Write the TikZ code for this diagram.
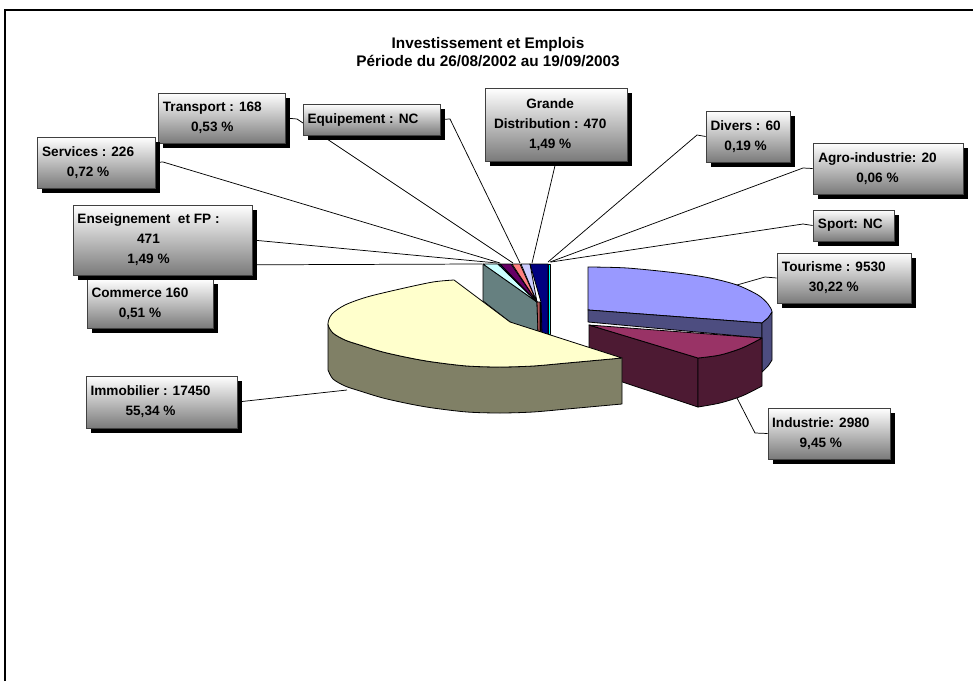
\documentclass[tikz,border=0pt]{standalone}
\usepackage{fontspec}
\setmainfont{Liberation Sans}
\usetikzlibrary{shadows,fit}

% slice colours (top faces and their darker sides)
\definecolor{immoTop}{HTML}{FFFFCC}
\definecolor{immoSide}{HTML}{808066}
\definecolor{tourTop}{HTML}{9999FF}
\definecolor{tourSide}{HTML}{4D4D80}
\definecolor{indTop}{HTML}{993366}
\definecolor{indSide}{HTML}{4D1A33}
\definecolor{commTop}{HTML}{CCFFFF}
\definecolor{commSide}{HTML}{668080}
\definecolor{ensTop}{HTML}{660066}
\definecolor{ensSide}{HTML}{330033}
\definecolor{servTop}{HTML}{FF8080}
\definecolor{servSide}{HTML}{B35A5A}
\definecolor{transTop}{HTML}{0066CC}
\definecolor{equipTop}{HTML}{CCCCFF}
\definecolor{gdTop}{HTML}{000080}
\definecolor{sportTop}{HTML}{00FFFF}

\pgfdeclarelayer{bg}
\pgfsetlayers{bg,main}

\begin{document}
\begin{tikzpicture}[x=0.75pt,y=-0.75pt,
  lbl/.style={draw=black!75, line width=0.5pt, top color=white, bottom color=black!52,
    inner sep=0pt,
    drop shadow={shadow xshift=3.75pt, shadow yshift=-3.75pt, fill=black, opacity=1}},
  lbltxt/.style={inner sep=0pt, align=center, anchor=west,
    font=\bfseries\fontsize{10.2}{15}\selectfont},
  lead/.style={draw=black, line width=0.55pt},
  pie/.style={draw=black, line width=0.6pt, line join=round},
  ttl/.style={font=\bfseries\fontsize{11.5}{13}\selectfont, align=center}]

\useasboundingbox (0,0) rectangle (973,681);

% chart frame
\draw[line width=1pt] (5,681) -- (5,10) -- (973,10);

% title
\node[ttl] (title) at (488,52) {Investissement et Emplois\\P\'eriode du 26/08/2002 au 19/09/2003};

% data label boxes
\node[lbl, fit={(87,279) (213,328)}] (comm) {};
\node[lbl, fit={(158,93) (285,143)}] (trans) {};
\node[lbl, fit={(37,137) (155,188)}] (serv) {};
\node[lbl, fit={(73,205) (252,275)}] (ens) {};
\node[lbl, fit={(303,104) (440,135)}] (equip) {};
\node[lbl, fit={(485,88) (627,161)}] (gd) {};
\node[lbl, fit={(706,111) (790,162)}] (div) {};
\node[lbl, fit={(813,143) (963,194)}] (agro) {};
\node[lbl, fit={(813,210) (894,241)}] (sport) {};
\node[lbl, fit={(777,253) (911,303)}] (tour) {};
\node[lbl, fit={(768,408) (890,459)}] (ind) {};
\node[lbl, fit={(86,376) (237,428)}] (immo) {};

% data label texts
\node[lbltxt] (commT) at ([xshift=3.5pt]comm.west) {Commerce 160\\0,51 \%};
\node[lbltxt] (transT) at ([xshift=3.75pt]trans.west) {Transport : 168\\0,53 \%};
\node[lbltxt] (servT) at ([xshift=3.9pt]serv.west) {Services : 226\\0,72 \%};
\node[lbltxt] (ensT) at ([xshift=3.4pt]ens.west) {Enseignement\ \ et FP :\\471\\1,49 \%};
\node[lbltxt] (equipT) at ([xshift=3.5pt]equip.west) {Equipement : NC};
\node[lbltxt] (gdT) at ([xshift=6.8pt]gd.west) {Grande\\Distribution : 470\\1,49 \%};
\node[lbltxt] (divT) at ([xshift=3.5pt]div.west) {Divers : 60\\0,19 \%};
\node[lbltxt] (agroT) at ([xshift=4pt]agro.west) {Agro-industrie: 20\\0,06 \%};
\node[lbltxt] (sportT) at ([xshift=3.75pt]sport.west) {Sport: NC};
\node[lbltxt] (tourT) at ([xshift=3.75pt]tour.west) {Tourisme : 9530\\30,22 \%};
\node[lbltxt] (indT) at ([xshift=3.2pt]ind.west) {Industrie: 2980\\9,45 \%};
\node[lbltxt] (immoT) at ([xshift=3.5pt]immo.west) {Immobilier : 17450\\55,34 \%};

\begin{pgfonlayer}{bg}
% --- small slices, seen edge-on
\filldraw[pie, fill=commSide] (483,264) -- (537,302) -- (538,334) -- (510,322) -- (483,301) -- cycle;
\filldraw[pie, fill=commTop] (483,264) -- (498,264) -- (537,302) -- cycle;
\filldraw[pie, fill=transTop] (498,264) -- (500,264) -- (537,302) -- cycle;
\filldraw[pie, fill=ensTop] (500,264) -- (511,264) -- (537,302) -- cycle;
\filldraw[pie, fill=servTop] (512,264) -- (520,264) -- (537,302) -- cycle;
\filldraw[pie, fill=equipTop] (521,264) -- (530,264) -- (537,302) -- cycle;
\filldraw[pie, fill=servSide] (537,302) -- (540,302) -- (540,334) -- (538,334) -- cycle;
\filldraw[pie, fill=ensSide] (540,302) -- (542,302) -- (542,334) -- (540,334) -- cycle;
\filldraw[pie, fill=gdTop] (530,264) -- (548,264) -- (548,334) -- (542,334) -- (541,302) -- cycle;
\filldraw[pie, fill=sportTop] (548,264) -- (550,264) -- (550,334) -- (548,334) -- cycle;

% --- Tourisme
\filldraw[pie, fill=tourTop] (588,310) -- (588,267)
  -- plot[smooth] coordinates {(588,267) (627,268) (677,273) (710,278) (737,285) (758,295) (768,304) (772,312) (768,318) (762,323)} -- cycle;
\filldraw[pie, fill=tourSide] (588,310) -- (762,323) -- (762,338) -- (588,322) -- cycle;
\filldraw[pie, fill=tourSide] (762,323) -- (768,318) -- (772,312) -- (772,360)
  -- plot[smooth] coordinates {(772,360) (768,366) (762,372)} -- cycle;

% --- Industrie
\filldraw[pie, fill=indSide] (589,325) -- (698,358) -- (698,407) -- (589,371) -- cycle;
\filldraw[pie, fill=indSide] (698,358) -- plot[smooth] coordinates {(698,358) (720,355) (742,348) (762,338)}
  -- (762,386) -- plot[smooth] coordinates {(762,386) (742,396) (720,403) (698,407)} -- cycle;
\filldraw[pie, fill=indTop] (589,325) -- (762,338)
  -- plot[smooth] coordinates {(762,338) (742,348) (720,355) (698,358)} -- cycle;

% --- Immobilier
\filldraw[pie, fill=immoSide] (328,324)
  -- plot[smooth] coordinates {(328,324) (333,333) (345,340) (360,345) (383,352) (410,358) (433,362) (467,366) (500,367) (533,366) (567,363) (600,360) (622,358)}
  -- (622,404)
  -- plot[smooth] coordinates {(622,404) (600,406) (567,409) (533,412) (500,413) (467,412) (433,408) (410,404) (383,398) (360,391) (345,386) (333,379) (328,370)}
  -- cycle;
\filldraw[pie, fill=immoTop] (454,280)
  -- plot[smooth] coordinates {(454,280) (433,282) (400,289) (367,297) (345,305) (332,314) (328,324) (333,333) (345,340) (360,345) (383,352) (410,358) (433,362) (467,366) (500,367) (533,366) (567,363) (600,360) (622,358)}
  -- (510,322) -- cycle;

% --- leader lines
\coordinate (pComm) at (482,264);
\coordinate (hComm) at (200,265);
\coordinate (pEns) at (497,263);
\coordinate (pServ) at (500,263);
\coordinate (kServ) at (163,162);
\coordinate (pTrans) at (513,263);
\coordinate (kTrans) at (297,119);
\coordinate (pEquip) at (520,263);
\coordinate (kEquip) at (450,119);
\coordinate (pGd) at (532,263);
\coordinate (pDiv) at (548,262);
\coordinate (kDiv) at (697,135);
\coordinate (pAgro) at (550,262);
\coordinate (kAgro) at (803,168);
\coordinate (pSport) at (551,262);
\coordinate (kSport) at (803,224);
\coordinate (pTour) at (737,285);
\coordinate (kTour) at (765,277);
\coordinate (pInd) at (737,398);
\coordinate (kInd) at (755,433);
\coordinate (pImmo) at (347,390);

\draw[lead] (hComm) -- (pComm);
\draw[lead] (ens.east) -- (pEns);
\draw[lead] (serv.east) -- (kServ) -- (pServ);
\draw[lead] (trans.east) -- (kTrans) -- (pTrans);
\draw[lead] (equip.east) -- (kEquip) -- (pEquip);
\draw[lead] (gd.south) -- (pGd);
\draw[lead] (div.west) -- (kDiv) -- (pDiv);
\draw[lead] (agro.west) -- (kAgro) -- (pAgro);
\draw[lead] (sport.west) -- (kSport) -- (pSport);
\draw[lead] (tour.west) -- (kTour) -- (pTour);
\draw[lead] (ind.west) -- (kInd) -- (pInd);
\draw[lead] (immo.east) -- (pImmo);
\end{pgfonlayer}

\end{tikzpicture}
\end{document}
